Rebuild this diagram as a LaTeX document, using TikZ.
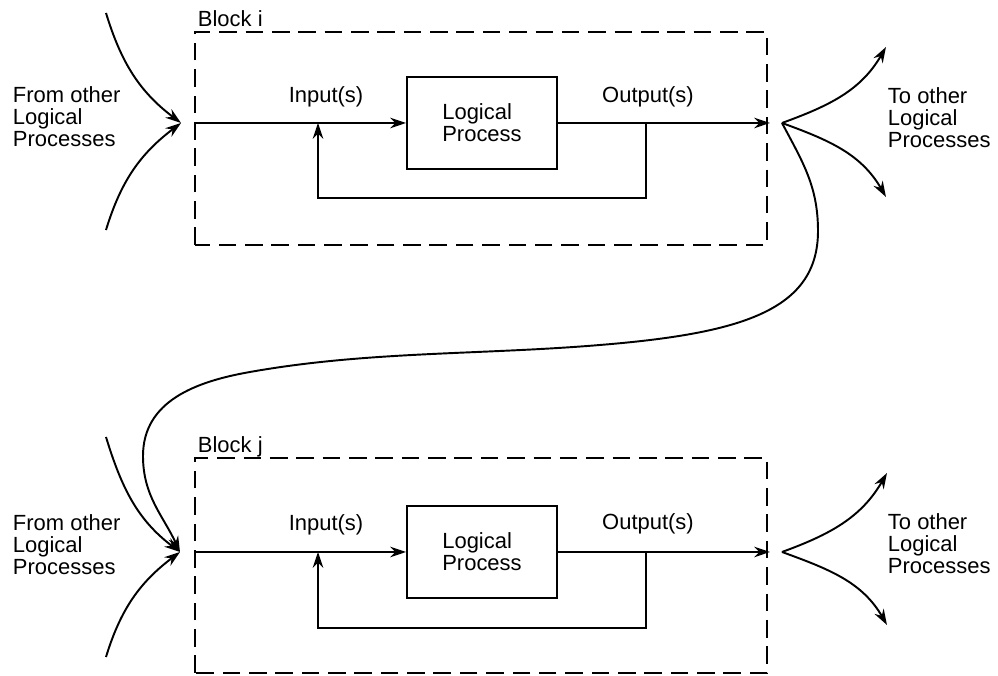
\documentclass[tikz,border=0pt]{standalone}
\usepackage{fontspec}
\setmainfont{Liberation Sans}
\usetikzlibrary{arrows.meta}

\tikzset{
  >={Stealth[length=9pt,width=6pt,inset=3pt]},
  blockframe/.style={draw,dash pattern=on 10pt off 5pt},
  lpbox/.style={draw,minimum width=3cm,minimum height=1.84cm,align=left},
  lbl/.style={align=left,inner sep=0pt},
}

\begin{document}
\begin{tikzpicture}[line width=1.1pt,font=\fontsize{12.5}{12.5}\selectfont]
    \useasboundingbox (0,0) rectangle (19.96,13.52);

    % Block i
    \draw[blockframe] (3.9,8.62) rectangle (15.34,12.88);
    \node[lbl,anchor=base west] (blki) at (3.94,12.98) {Block i};
    \node[lpbox] (lpi) at (9.64,11.06) {Logical\\Process};
    \coordinate (ini) at (3.9,11.06);
    \coordinate (outi) at (15.4,11.06);
    \coordinate (fbi) at (6.36,11.06);
    \coordinate (tapi) at (12.92,11.06);
    \draw[->] (ini) -- (lpi);
    \draw[->] (lpi) -- (outi);
    \draw[->] (tapi) |- (6.36,9.56) -- (fbi);
    \node[lbl] (inlbli) at (6.52,11.58) {Input(s)};
    \node[lbl] (outlbli) at (12.96,11.58) {Output(s)};

    \coordinate (tipi) at (3.62,11.06);
    \coordinate (srcia) at (2.12,13.26);
    \coordinate (srcib) at (2.12,8.92);
    \draw[->] (srcia) to[out=-73,in=143] (tipi);
    \draw[->] (srcib) to[out=73,in=-143] (tipi);
    \node[lbl,anchor=west] (fromi) at (0.24,11.18) {From other\\Logical\\Processes};

    \coordinate (fani) at (15.64,11.06);
    \coordinate (toia) at (17.72,12.58);
    \coordinate (toib) at (17.72,9.58);
    \draw[->] (fani) to[out=20,in=-120] (toia);
    \draw[->] (fani) to[out=-20,in=120] (toib);
    \node[lbl,anchor=west] (toi) at (17.74,11.16) {To other\\Logical\\Processes};

    % Block j
    \draw[blockframe] (3.9,0.06) rectangle (15.34,4.36);
    \node[lbl,anchor=base west] (blkj) at (3.94,4.46) {Block j};
    \node[lpbox] (lpj) at (9.64,2.48) {Logical\\Process};
    \coordinate (inj) at (3.9,2.48);
    \coordinate (outj) at (15.4,2.48);
    \coordinate (fbj) at (6.36,2.48);
    \coordinate (tapj) at (12.92,2.48);
    \draw[->] (inj) -- (lpj);
    \draw[->] (lpj) -- (outj);
    \draw[->] (tapj) |- (6.36,0.96) -- (fbj);
    \node[lbl] (inlblj) at (6.52,3.02) {Input(s)};
    \node[lbl] (outlblj) at (12.96,3.04) {Output(s)};

    \coordinate (tipj) at (3.6,2.48);
    \coordinate (srcja) at (2.12,4.78);
    \coordinate (srcjb) at (2.12,0.38);
    \draw[->] (srcja) to[out=-73,in=143] (tipj);
    \draw[->] (srcjb) to[out=73,in=-143] (tipj);
    \node[lbl,anchor=west] (fromj) at (0.24,2.62) {From other\\Logical\\Processes};

    \coordinate (fanj) at (15.64,2.48);
    \coordinate (toja) at (17.74,4.06);
    \coordinate (tojb) at (17.74,1.02);
    \draw[->] (fanj) to[out=20,in=-120] (toja);
    \draw[->] (fanj) to[out=-20,in=120] (tojb);
    \node[lbl,anchor=west] (toj) at (17.74,2.64) {To other\\Logical\\Processes};

    % i to j
    \draw[->] (fani) to[out=-62,in=90] (16.36,8.9)
        .. controls (16.36,7.3) and (14.8,6.85) .. (12.0,6.62)
        .. controls (9.6,6.42) and (7.36,6.5) .. (5.0,6.08)
        .. controls (3.92,5.89) and (2.86,5.5) .. (2.86,4.4)
        .. controls (2.86,3.6) and (3.26,3.21) .. (tipj);
\end{tikzpicture}
\end{document}
